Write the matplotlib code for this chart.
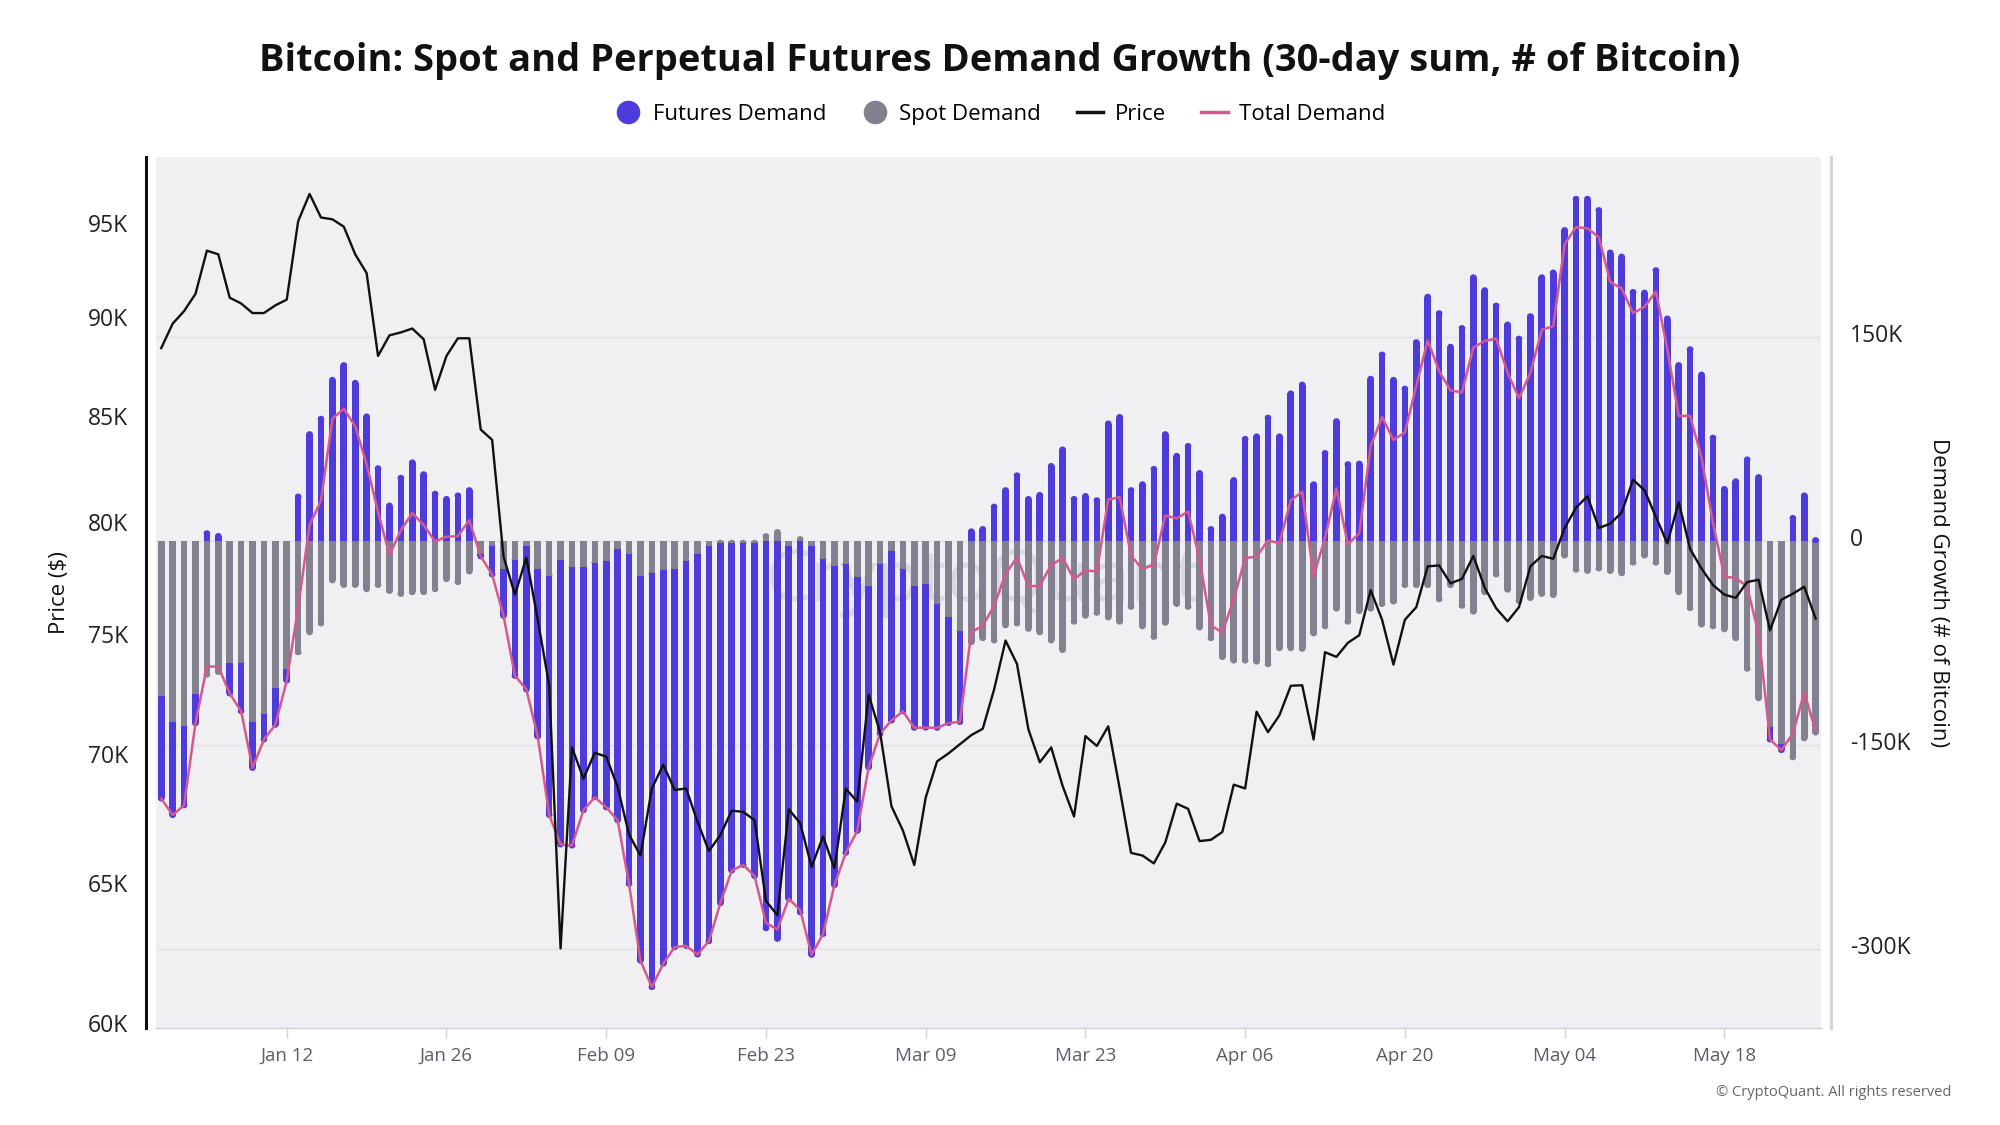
import numpy as np
import matplotlib
matplotlib.use('Agg')
import matplotlib.pyplot as plt
import matplotlib.dates as mdates
from matplotlib.lines import Line2D
from matplotlib.patches import Ellipse
from matplotlib.ticker import NullLocator, FixedLocator, FixedFormatter
from matplotlib.transforms import ScaledTranslation
import pandas as pd

plt.rcParams['font.family'] = ['Open Sans', 'DejaVu Sans']

# ---------------- data ----------------
dates = pd.date_range('2025-01-01', periods=146, freq='D')

# 30-day sum, thousands of BTC
futures_demand = [
    -75, -68.5, -58, -21.7, 6, 4, -22.5, -35.5, -33.8, -18.6,
    -27.3, -8.7, 33, 78.9, 90.2, 118.8, 129.6, 116.6, 91.9, 53.8,
    26.4, 46.8, 58.1, 49.4, 35.1, 31.2, 33.8, 37.7, -2, -20.8,
    -34.7, -85.4, -105.3, -123.5, -176, -209.4, -205, -179, -172.5, -181.2,
    -199.4, -242.3, -283.1, -304.3, -289.6, -278.3, -282.6, -294.2, -290.4, -265,
    -241, -236.8, -245, -284.4, -292.2, -259.2, -272.7, -300.4, -275.7, -234.5,
    -212.4, -186.8, -133.1, -124.8, -124.8, -104.9, -104, -105.3, -91, -77.6,
    -67.2, 7.4, 9.1, 25.6, 37.7, 48.6, 31.2, 34.2, 55.5, 67.6,
    31.2, 33.4, 30.3, 86.7, 91.5, 37.7, 42, 53.3, 78.9, 62.9,
    70.2, 50.3, 9.1, 18.2, 45.1, 75.4, 77.2, 91, 77.2, 108.8,
    115.3, 42, 65, 88.4, 56.8, 57.2, 119.6, 137.4, 118.8, 112.3,
    146.5, 179.9, 167.8, 143.1, 156.9, 194.2, 184.7, 173.4, 159.5, 149.1,
    165.6, 194.2, 197.7, 228.9, 251.9, 251.9, 243.6, 212.4, 209.4, 183.4,
    182.9, 199.4, 163.9, 129.6, 141.3, 122.7, 76.3, 38.6, 44.2, 60.3,
    47.3, -9.5, -4.3, 17.3, 33.8, 1,
]

spot_demand = [
    -114, -132.7, -136, -112, -98, -96, -89.3, -89.3, -132.7, -127,
    -107.5, -93.6, -81.5, -66.8, -60.3, -28.6, -32, -32, -35.1, -32,
    -36.4, -38.6, -37.3, -37.3, -35.1, -27.7, -29.9, -22.1, -9, -3.5,
    -20, -13.4, -3.5, -20, -25.1, -13.4, -18.6, -18.6, -15.6, -14.3,
    -5.6, -9.5, -25.1, -23.4, -20.8, -20, -14.7, -9.5, -3.5, -1,
    -1, -1, -1, 3.9, 6.9, -3.5, 1.7, -3.5, -13, -18.2,
    -16.5, -26, -33, -16.5, -6.9, -20, -33, -31.6, -46, -55.9,
    -65.5, -74.1, -71.1, -72.8, -61.6, -60.3, -64.2, -66.8, -72.8, -79.8,
    -59, -54.6, -52.5, -55.9, -59, -48.1, -62.4, -70.2, -59.8, -46,
    -48.1, -63.3, -71.1, -85, -87.6, -87.6, -88.4, -90.2, -78.5, -78.5,
    -78.9, -67.6, -62.4, -49.4, -59, -51.2, -49.4, -46, -44.2, -32.1,
    -32.1, -32.1, -42.5, -32.1, -47.3, -51.6, -37.3, -24.3, -35.5, -43.8,
    -41.6, -38.6, -39.4, -10.4, -20.8, -21.7, -19.9, -21.7, -23.4, -15.6,
    -10.4, -15.6, -22.5, -37.3, -49, -61.1, -62.4, -64.6, -71.1, -93.6,
    -115.3, -136.1, -149.1, -158.7, -144.8, -140.5,
]

# thousands of USD
price = [
    88.6, 89.85, 90.5, 91.4, 93.7, 93.5, 91.2, 90.9, 90.4, 90.4,
    90.8, 91.1, 95.3, 96.8, 95.5, 95.4, 95.0, 93.5, 92.5, 88.2,
    89.25, 89.4, 89.6, 89.05, 86.5, 88.2, 89.1, 89.1, 84.55, 84.05,
    78.6, 76.9, 78.55, 75.8, 73.0, 62.76, 70.44, 69.19, 70.22, 70.07,
    68.86, 67.0, 66.2, 68.8, 69.74, 68.74, 68.8, 67.5, 66.37, 66.98,
    67.93, 67.88, 67.56, 64.5, 63.97, 67.98, 67.44, 65.77, 66.93, 65.72,
    68.79, 68.28, 72.6, 71.06, 68.1, 67.16, 65.84, 68.44, 69.88, 70.2,
    70.57, 70.94, 71.2, 72.83, 74.9, 73.9, 71.18, 69.84, 70.44, 68.9,
    67.7, 70.9, 70.5, 71.3, 68.8, 66.3, 66.2, 65.9, 66.7, 68.2,
    68.0, 66.75, 66.8, 67.1, 68.95, 68.8, 71.9, 71.06, 71.75, 72.98,
    73.0, 70.76, 74.4, 74.2, 74.8, 75.13, 77.1, 75.8, 73.87, 75.8,
    76.35, 78.16, 78.2, 77.4, 77.6, 78.63, 77.2, 76.3, 75.73, 76.35,
    78.16, 78.63, 78.5, 79.9, 80.84, 81.37, 79.9, 80.1, 80.61, 82.15,
    81.65, 80.42, 79.2, 81.1, 78.94, 78.06, 77.33, 76.9, 76.76, 77.46,
    77.56, 75.34, 76.68, 76.94, 77.25, 75.85,
]

price_ticks = [60, 65, 70, 75, 80, 85, 90, 95]
price_tick_labels = ['60K', '65K', '70K', '75K', '80K', '85K', '90K', '95K']
demand_ticks = [-300, -150, 0, 150]
demand_tick_labels = ['-300K', '-150K', '0', '150K']
date_ticks = pd.date_range('2025-01-12', '2025-05-18', freq='14D')

# ---------------- styling ----------------
C_FUT = '#4E3BDC'
C_SPOT = '#83818F'
C_PRICE = '#111111'
C_TOTAL = '#D6588F'
BG = '#F0F0F3'

x = mdates.date2num(dates)
fut = np.array(futures_demand, dtype=float)
sp = np.array(spot_demand, dtype=float)
total = fut + sp
fut_bottom = np.where(np.sign(fut) == np.sign(sp), sp, 0.0)

fig = plt.figure(figsize=(20, 11.25), dpi=100)
ax = fig.add_axes([0.078, 0.0858, 0.8325, 0.7747])
ax.set_facecolor(BG)

# faint watermark behind the bars
ax.text(0.497, 0.512, 'CryptoQuant', transform=ax.transAxes, fontsize=52,
        color='#d9d9e0', ha='center', va='center', zorder=1.5)

bw = 0.58
ax.bar(x, sp, width=bw, color=C_SPOT, zorder=2, linewidth=0)
ax.bar(x, fut, bottom=fut_bottom, width=bw, color=C_FUT, zorder=2.1, linewidth=0)
cap_h = 4.4
for xi, v in zip(x, sp):
    if v != 0:
        ax.add_patch(Ellipse((xi, v), bw, cap_h, color=C_SPOT, lw=0, zorder=2))
for xi, b, v in zip(x, fut_bottom, fut):
    if v != 0:
        ax.add_patch(Ellipse((xi, b + v), bw, cap_h, color=C_FUT, lw=0, zorder=2.1))

ax.plot(x, total, color=C_TOTAL, lw=1.8, zorder=3)

ax.set_xlim(x[0] - 0.46, x[-1] + 0.47)
ax.set_ylim(-358.1, 282.7)
ax.yaxis.set_major_locator(FixedLocator(demand_ticks))
ax.yaxis.set_major_formatter(FixedFormatter(demand_tick_labels))
ax.grid(axis='y', color='#e1e1e8', lw=1, zorder=0)
ax.set_axisbelow(True)

ax.set_xticks(mdates.date2num(date_ticks))
ax.xaxis.set_major_formatter(mdates.DateFormatter('%b %d'))
ax.tick_params(axis='x', length=7, width=1, color='#cfd0dc', labelcolor='#5a5e6a',
               labelsize=13.5, pad=6.5)

axp = ax.twinx()
# twinx moves the host's ticks to the left; put demand ticks back on the right
ax.yaxis.tick_right()
ax.tick_params(axis='y', which='both', length=0, pad=13.5, labelsize=16.5,
               labelcolor='#222222', left=False, labelleft=False,
               right=True, labelright=True)

for s in ['top', 'left']:
    ax.spines[s].set_visible(False)
ax.spines['right'].set_visible(True)
ax.spines['right'].set_color('#d4d4dc')
ax.spines['right'].set_linewidth(2.2)
ax.spines['right'].set_position(('outward', 7.2))
ax.spines['bottom'].set_color('#cfd0dc')
ax.spines['bottom'].set_linewidth(1)

axp.set_yscale('log')
axp.plot(x, price, color=C_PRICE, lw=1.7, zorder=3)
axp.set_ylim(59.94, 98.88)
axp.yaxis.tick_left()
axp.yaxis.set_major_locator(FixedLocator(price_ticks))
axp.yaxis.set_major_formatter(FixedFormatter(price_tick_labels))
axp.yaxis.set_minor_locator(NullLocator())
axp.tick_params(axis='y', which='both', length=0, pad=13, labelsize=16.5,
                labelcolor='#222222', right=False, labelright=False,
                left=True, labelleft=True)
for s in ['top', 'right', 'bottom']:
    axp.spines[s].set_visible(False)
axp.spines['left'].set_visible(True)
axp.spines['left'].set_color('#111111')
axp.spines['left'].set_linewidth(2.2)
axp.spines['left'].set_position(('outward', 7.2))

# y tick labels sit a few pixels above their gridlines in the reference
lift = ScaledTranslation(0, 0.04, fig.dpi_scale_trans)
for lab in ax.get_yticklabels() + axp.get_yticklabels():
    lab.set_transform(lab.get_transform() + lift)

ycen = 1 - 592.75 / 1125
fig.text(0.03, ycen, 'Price ($)', rotation=90, ha='center', va='center',
         fontsize=16, color='#111111')
fig.text(0.9695, ycen, 'Demand Growth (# of Bitcoin)', rotation=270, ha='center',
         va='center', fontsize=16, color='#111111')

fig.text(0.5, 0.9455, 'Bitcoin: Spot and Perpetual Futures Demand Growth (30-day sum, # of Bitcoin)',
         ha='center', va='center', fontsize=27.4, weight='bold', color='#111111')

handles = [
    Line2D([], [], marker='o', ls='none', markersize=16, markerfacecolor=C_FUT,
           markeredgecolor=C_FUT),
    Line2D([], [], marker='o', ls='none', markersize=16, markerfacecolor=C_SPOT,
           markeredgecolor=C_SPOT),
    Line2D([], [], color=C_PRICE, lw=2.5),
    Line2D([], [], color=C_TOTAL, lw=2.5),
]
fig.legend(handles, ['Futures Demand', 'Spot Demand', 'Price', 'Total Demand'],
           loc='center', bbox_to_anchor=(0.5, 0.898), ncol=4, frameon=False,
           fontsize=16, handlelength=1.2, handletextpad=0.5, columnspacing=1.6)

fig.text(0.9755, 0.0293, '\u00a9 CryptoQuant. All rights reserved', ha='right',
         va='center', fontsize=10.5, color='#666666')

fig.savefig('out.png', dpi=100)
